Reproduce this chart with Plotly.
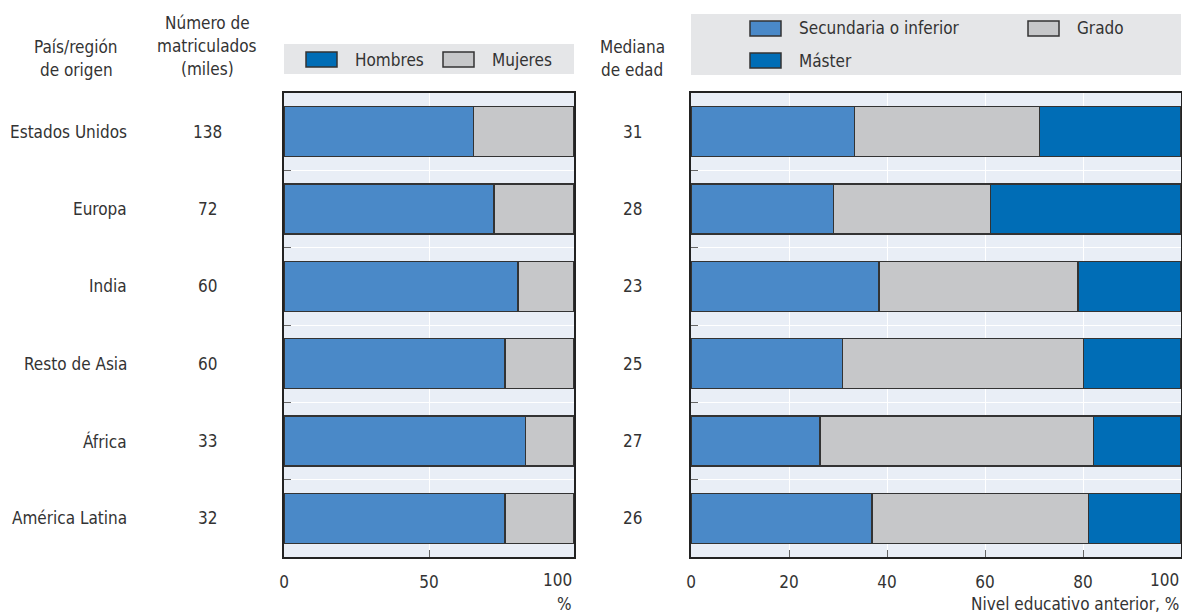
import plotly.graph_objects as go

# ---------------- data ----------------
regions = ["Estados Unidos", "Europa", "India", "Resto de Asia", "África", "América Latina"]
enrolled_thousands = [138, 72, 60, 60, 33, 32]
median_age = [31, 28, 23, 25, 27, 26]

hombres = [65.4, 72.4, 80.7, 76.2, 83.3, 76.2]
mujeres = [34.6, 27.6, 19.3, 23.8, 16.7, 23.8]

secundaria = [33.4, 29.1, 38.4, 30.9, 26.3, 36.9]
grado = [37.7, 32.0, 40.6, 49.2, 55.8, 44.2]
master = [28.9, 38.9, 21.0, 19.9, 17.9, 18.9]

left_ticks = [0, 50, 100]
right_ticks = [0, 20, 40, 60, 80, 100]

# ---------------- styles ----------------
FONT = "DejaVu Sans Condensed, Liberation Sans Narrow, sans-serif"
FS = 17
TXT = "#333333"
C_LIGHT = "#4A89C8"
C_GRAY = "#C6C7C9"
C_DARK = "#006DB6"
EDGE = "#333333"
PLOT_BG = "#E9EEF6"
LEG_BG = "#E5E6E8"

W, H = 1182, 613
ML, MR, MT, MB = 284, 1, 93, 56
PW = W - ML - MR
PH = H - MT - MB


def px(x):
    return (x - ML) / PW


def py(y):
    return (H - MB - y) / PH


def tick_labels(vals):
    # the last label is drawn separately, right-aligned to the plot edge
    out = [str(v) for v in vals]
    out[-1] = ""
    return out


fig = go.Figure()


def bar(x, name, color, xa, ya):
    fig.add_trace(go.Bar(
        y=regions, x=x, orientation="h", name=name,
        marker=dict(color=color, line=dict(color=EDGE, width=1.5)),
        xaxis=xa, yaxis=ya, showlegend=False,
        hovertemplate="%{y}: %{x}<extra>" + name + "</extra>",
    ))


bar(hombres, "Hombres", C_LIGHT, "x", "y")
bar(mujeres, "Mujeres", C_GRAY, "x", "y")
bar(secundaria, "Secundaria o inferior", C_LIGHT, "x2", "y2")
bar(grado, "Grado", C_GRAY, "x2", "y2")
bar(master, "Máster", C_DARK, "x2", "y2")

axis_common = dict(
    showline=True, linecolor="#222222", linewidth=2, mirror=True,
    showgrid=True, gridcolor="white", gridwidth=1, zeroline=False,
    ticks="inside", ticklen=7, tickcolor="#666666", tickwidth=1,
    tickfont=dict(family=FONT, size=FS, color=TXT),
    automargin=False,
)

yaxis_common = dict(
    type="category", categoryorder="array", categoryarray=regions,
    autorange="reversed", tickson="boundaries", showticklabels=False,
    **axis_common,
)

x1_end = px(574)
x2_start = px(691)

fig.update_layout(
    width=W, height=H, autosize=False,
    margin=dict(l=ML, r=MR, t=MT, b=MB, pad=0, autoexpand=False),
    paper_bgcolor="white", plot_bgcolor=PLOT_BG,
    barmode="stack", bargap=0.353,
    font=dict(family=FONT, size=FS, color=TXT),
    xaxis=dict(domain=[0, x1_end], range=[0, 100], tickmode="array",
               tickvals=left_ticks, ticktext=tick_labels(left_ticks),
               ticklabelstandoff=9, anchor="y", **axis_common),
    yaxis=dict(domain=[0, 1], anchor="x", **yaxis_common),
    xaxis2=dict(domain=[x2_start, 1], range=[0, 100], tickmode="array",
                tickvals=right_ticks, ticktext=tick_labels(right_ticks),
                ticklabelstandoff=9, anchor="y2", **axis_common),
    yaxis2=dict(domain=[0, 1], anchor="x2", **yaxis_common),
)

annotations = []
shapes = []


def text(x, y, s, xanchor="center", xref="paper", yref="paper", size=FS):
    annotations.append(dict(
        x=x, y=y, xref=xref, yref=yref, text=s, showarrow=False,
        xanchor=xanchor, yanchor="middle",
        font=dict(family=FONT, size=size, color=TXT),
    ))


# last tick labels, right-aligned at the axis end
text(left_ticks[-1], py(580), str(left_ticks[-1]), xanchor="right", xref="x")
text(right_ticks[-1], py(580), str(right_ticks[-1]), xanchor="right", xref="x2")

# row labels / values
for r, n, a in zip(regions, enrolled_thousands, median_age):
    text(px(129), r, r, xanchor="right", yref="y")
    text(px(207), r, str(n), yref="y")
    text(px(632), r, str(a), yref="y")

# column headers
for s, y in [("País/región", 47), ("de origen", 70)]:
    text(px(76), py(y), s)
for s, y in [("Número de", 23), ("matriculados", 46), ("(miles)", 69)]:
    text(px(207), py(y), s)
for s, y in [("Mediana", 47), ("de edad", 70)]:
    text(px(632), py(y), s)

# axis titles
text(x1_end, py(604), "%", xanchor="right")
text(1.0, py(604), "Nivel educativo anterior, %", xanchor="right")

# legend boxes
shapes.append(dict(type="rect", xref="paper", yref="paper", layer="below",
                   x0=0, x1=x1_end, y0=py(74), y1=py(44),
                   fillcolor=LEG_BG, line=dict(width=0)))
shapes.append(dict(type="rect", xref="paper", yref="paper", layer="below",
                   x0=x2_start, x1=1.0, y0=py(75), y1=py(14),
                   fillcolor=LEG_BG, line=dict(width=0)))

legend_items = [
    # (label, color, swatch x0, swatch y-top, text x)
    ("Hombres", C_DARK, 306, 52, 353),
    ("Mujeres", C_GRAY, 443, 52, 490),
    ("Secundaria o inferior", C_LIGHT, 750, 21, 797),
    ("Grado", C_GRAY, 1028, 21, 1075),
    ("Máster", C_DARK, 750, 53, 797),
]
for label, color, sx, sy, tx in legend_items:
    shapes.append(dict(type="rect", xref="paper", yref="paper",
                       x0=px(sx), x1=px(sx + 31), y0=py(sy + 15), y1=py(sy),
                       fillcolor=color, line=dict(color=EDGE, width=1.5)))
    text(px(tx), py(sy + 7.5), label, xanchor="left")

fig.update_layout(annotations=annotations, shapes=shapes)

POST = """
document.documentElement.style.margin='0';
document.documentElement.style.overflow='hidden';
document.body.style.margin='0';
document.body.style.overflow='hidden';
"""

fig.write_html(
    "out.html",
    config={"responsive": False, "displayModeBar": False},
    post_script=POST,
)
